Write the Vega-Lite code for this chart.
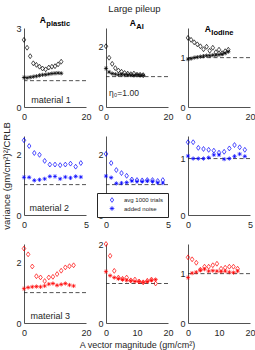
{
 "$schema": "https://vega.github.io/schema/vega-lite/v6.json",
 "padding": {"left": 1, "top": 3, "right": 0, "bottom": 0},
 "title": {"text": "Large pileup", "fontSize": 9.5, "fontWeight": "normal", "color": "#262626", "offset": 3, "anchor": "middle", "frame": "bounds", "dx": 6},
 "columns": 3,
 "spacing": {"row": 29, "column": 20},
 "bounds": "flush",
 "resolve": {"scale": {"shape": "independent"}, "legend": {"shape": "independent"}},
 "config": {
  "font": "Liberation Sans",
  "view": {"stroke": null},
  "axis": {"grid": false, "ticks": false, "labelFontSize": 9, "labelColor": "#262626", "domainColor": "#262626", "domainWidth": 0.8, "labelPadding": 3, "titleFontSize": 9.5, "titleFontWeight": "normal", "titleColor": "#262626", "labelFlush": false, "labelOverlap": false, "minExtent": 0},
  "axisX": {"labelPadding": 5.5},
  "axisY": {"minExtent": 0}
 },
 "datasets": {
  "p11": [
   {"x":0,"y":2.55,"s":"avg 1000 trials"},{"x":1,"y":2.25,"s":"avg 1000 trials"},{"x":2,"y":1.93,"s":"avg 1000 trials"},{"x":3,"y":1.66,"s":"avg 1000 trials"},{"x":4,"y":1.6,"s":"avg 1000 trials"},{"x":5,"y":1.53,"s":"avg 1000 trials"},{"x":6,"y":1.46,"s":"avg 1000 trials"},{"x":7,"y":1.43,"s":"avg 1000 trials"},{"x":8,"y":1.5,"s":"avg 1000 trials"},{"x":9,"y":1.53,"s":"avg 1000 trials"},{"x":10,"y":1.55,"s":"avg 1000 trials"},{"x":11,"y":1.62,"s":"avg 1000 trials"},{"x":12,"y":1.72,"s":"avg 1000 trials"},
   {"x":0,"y":1.12,"s":"added noise"},{"x":1,"y":1.11,"s":"added noise"},{"x":2,"y":1.13,"s":"added noise"},{"x":3,"y":1.15,"s":"added noise"},{"x":4,"y":1.17,"s":"added noise"},{"x":5,"y":1.2,"s":"added noise"},{"x":6,"y":1.22,"s":"added noise"},{"x":7,"y":1.23,"s":"added noise"},{"x":8,"y":1.25,"s":"added noise"},{"x":9,"y":1.27,"s":"added noise"},{"x":10,"y":1.28,"s":"added noise"},{"x":11,"y":1.29,"s":"added noise"},{"x":12,"y":1.28,"s":"added noise"}
  ],
  "p12": [
   {"x":0,"y":2.0,"s":"avg 1000 trials"},{"x":1,"y":1.62,"s":"avg 1000 trials"},{"x":2,"y":1.42,"s":"avg 1000 trials"},{"x":3,"y":1.28,"s":"avg 1000 trials"},{"x":4,"y":1.2,"s":"avg 1000 trials"},{"x":5,"y":1.16,"s":"avg 1000 trials"},{"x":6,"y":1.12,"s":"avg 1000 trials"},{"x":7,"y":1.1,"s":"avg 1000 trials"},{"x":8,"y":1.08,"s":"avg 1000 trials"},{"x":9,"y":1.1,"s":"avg 1000 trials"},{"x":10,"y":1.06,"s":"avg 1000 trials"},{"x":11,"y":1.06,"s":"avg 1000 trials"},{"x":12,"y":1.05,"s":"avg 1000 trials"},
   {"x":0,"y":1.27,"s":"added noise"},{"x":1,"y":1.15,"s":"added noise"},{"x":2,"y":1.1,"s":"added noise"},{"x":3,"y":1.08,"s":"added noise"},{"x":4,"y":1.06,"s":"added noise"},{"x":5,"y":1.07,"s":"added noise"},{"x":6,"y":1.05,"s":"added noise"},{"x":7,"y":1.06,"s":"added noise"},{"x":8,"y":1.05,"s":"added noise"},{"x":9,"y":1.04,"s":"added noise"},{"x":10,"y":1.06,"s":"added noise"},{"x":11,"y":1.05,"s":"added noise"},{"x":12,"y":1.04,"s":"added noise"}
  ],
  "p13": [
   {"x":0,"y":1.4,"s":"avg 1000 trials"},{"x":1,"y":1.36,"s":"avg 1000 trials"},{"x":2,"y":1.31,"s":"avg 1000 trials"},{"x":3,"y":1.27,"s":"avg 1000 trials"},{"x":4,"y":1.23,"s":"avg 1000 trials"},{"x":5,"y":1.17,"s":"avg 1000 trials"},{"x":6,"y":1.22,"s":"avg 1000 trials"},{"x":7,"y":1.14,"s":"avg 1000 trials"},{"x":8,"y":1.2,"s":"avg 1000 trials"},{"x":9,"y":1.11,"s":"avg 1000 trials"},{"x":10,"y":1.16,"s":"avg 1000 trials"},{"x":11,"y":1.09,"s":"avg 1000 trials"},{"x":12,"y":1.13,"s":"avg 1000 trials"},{"x":13,"y":1.16,"s":"avg 1000 trials"},
   {"x":0,"y":0.97,"s":"added noise"},{"x":1,"y":0.98,"s":"added noise"},{"x":2,"y":1.0,"s":"added noise"},{"x":3,"y":1.01,"s":"added noise"},{"x":4,"y":1.02,"s":"added noise"},{"x":5,"y":1.03,"s":"added noise"},{"x":6,"y":1.04,"s":"added noise"},{"x":7,"y":1.04,"s":"added noise"},{"x":8,"y":1.05,"s":"added noise"},{"x":9,"y":1.05,"s":"added noise"},{"x":10,"y":1.06,"s":"added noise"},{"x":11,"y":1.07,"s":"added noise"},{"x":12,"y":1.09,"s":"added noise"},{"x":13,"y":1.12,"s":"added noise"}
  ],
  "p21": [
   {"x":0,"y":2.46,"s":"avg 1000 trials"},{"x":0.417,"y":2.27,"s":"avg 1000 trials"},{"x":0.833,"y":2.04,"s":"avg 1000 trials"},{"x":1.25,"y":1.98,"s":"avg 1000 trials"},{"x":1.667,"y":1.78,"s":"avg 1000 trials"},{"x":2.083,"y":1.66,"s":"avg 1000 trials"},{"x":2.5,"y":1.66,"s":"avg 1000 trials"},{"x":2.917,"y":1.64,"s":"avg 1000 trials"},{"x":3.333,"y":1.66,"s":"avg 1000 trials"},{"x":3.75,"y":1.69,"s":"avg 1000 trials"},{"x":4.167,"y":1.59,"s":"avg 1000 trials"},{"x":4.583,"y":1.71,"s":"avg 1000 trials"},
   {"x":0,"y":1.24,"s":"added noise"},{"x":0.417,"y":1.24,"s":"added noise"},{"x":0.833,"y":1.14,"s":"added noise"},{"x":1.25,"y":1.16,"s":"added noise"},{"x":1.667,"y":1.19,"s":"added noise"},{"x":2.083,"y":1.27,"s":"added noise"},{"x":2.5,"y":1.27,"s":"added noise"},{"x":2.917,"y":1.19,"s":"added noise"},{"x":3.333,"y":1.25,"s":"added noise"},{"x":3.75,"y":1.22,"s":"added noise"},{"x":4.167,"y":1.27,"s":"added noise"},{"x":4.583,"y":1.25,"s":"added noise"}
  ],
  "p22": [
   {"x":0,"y":2.01,"s":"avg 1000 trials"},{"x":0.417,"y":1.71,"s":"avg 1000 trials"},{"x":0.833,"y":1.48,"s":"avg 1000 trials"},{"x":1.25,"y":1.38,"s":"avg 1000 trials"},{"x":1.667,"y":1.29,"s":"avg 1000 trials"},{"x":2.083,"y":1.17,"s":"avg 1000 trials"},{"x":2.5,"y":1.15,"s":"avg 1000 trials"},{"x":2.917,"y":1.14,"s":"avg 1000 trials"},{"x":3.333,"y":1.15,"s":"avg 1000 trials"},{"x":3.75,"y":1.15,"s":"avg 1000 trials"},{"x":4.167,"y":1.12,"s":"avg 1000 trials"},{"x":4.583,"y":1.15,"s":"avg 1000 trials"},
   {"x":0,"y":1.28,"s":"added noise"},{"x":0.417,"y":1.23,"s":"added noise"},{"x":0.833,"y":1.04,"s":"added noise"},{"x":1.25,"y":1.05,"s":"added noise"},{"x":1.667,"y":1.07,"s":"added noise"},{"x":2.083,"y":1.12,"s":"added noise"},{"x":2.5,"y":1.1,"s":"added noise"},{"x":2.917,"y":1.1,"s":"added noise"},{"x":3.333,"y":1.12,"s":"added noise"},{"x":3.75,"y":1.1,"s":"added noise"},{"x":4.167,"y":1.06,"s":"added noise"},{"x":4.583,"y":1.05,"s":"added noise"}
  ],
  "p23": [
   {"x":0,"y":1.29,"s":"avg 1000 trials"},{"x":0.417,"y":1.29,"s":"avg 1000 trials"},{"x":0.833,"y":1.19,"s":"avg 1000 trials"},{"x":1.25,"y":1.17,"s":"avg 1000 trials"},{"x":1.667,"y":1.155,"s":"avg 1000 trials"},{"x":2.083,"y":1.14,"s":"avg 1000 trials"},{"x":2.5,"y":1.105,"s":"avg 1000 trials"},{"x":2.917,"y":1.12,"s":"avg 1000 trials"},{"x":3.333,"y":1.18,"s":"avg 1000 trials"},{"x":3.75,"y":1.24,"s":"avg 1000 trials"},{"x":4.167,"y":1.2,"s":"avg 1000 trials"},{"x":4.583,"y":1.155,"s":"avg 1000 trials"},
   {"x":0,"y":1.045,"s":"added noise"},{"x":0.417,"y":1.0,"s":"added noise"},{"x":0.833,"y":1.0,"s":"added noise"},{"x":1.25,"y":1.0,"s":"added noise"},{"x":1.667,"y":1.017,"s":"added noise"},{"x":2.083,"y":1.066,"s":"added noise"},{"x":2.5,"y":1.066,"s":"added noise"},{"x":2.917,"y":0.99,"s":"added noise"},{"x":3.333,"y":1.0,"s":"added noise"},{"x":3.75,"y":1.04,"s":"added noise"},{"x":4.167,"y":1.08,"s":"added noise"},{"x":4.583,"y":1.04,"s":"added noise"}
  ],
  "p31": [
   {"x":0,"y":2.45,"s":"avg 1000 trials"},{"x":1.333,"y":2.26,"s":"avg 1000 trials"},{"x":2.667,"y":1.86,"s":"avg 1000 trials"},{"x":4,"y":1.54,"s":"avg 1000 trials"},{"x":5.333,"y":1.5,"s":"avg 1000 trials"},{"x":6.667,"y":1.38,"s":"avg 1000 trials"},{"x":8,"y":1.5,"s":"avg 1000 trials"},{"x":9.333,"y":1.52,"s":"avg 1000 trials"},{"x":10.667,"y":1.61,"s":"avg 1000 trials"},{"x":12,"y":1.72,"s":"avg 1000 trials"},{"x":13.333,"y":1.83,"s":"avg 1000 trials"},{"x":14.667,"y":1.87,"s":"avg 1000 trials"},{"x":16,"y":1.9,"s":"avg 1000 trials"},
   {"x":0,"y":1.13,"s":"added noise"},{"x":1.333,"y":1.17,"s":"added noise"},{"x":2.667,"y":1.19,"s":"added noise"},{"x":4,"y":1.2,"s":"added noise"},{"x":5.333,"y":1.19,"s":"added noise"},{"x":6.667,"y":1.22,"s":"added noise"},{"x":8,"y":1.28,"s":"added noise"},{"x":9.333,"y":1.3,"s":"added noise"},{"x":10.667,"y":1.24,"s":"added noise"},{"x":12,"y":1.27,"s":"added noise"},{"x":13.333,"y":1.3,"s":"added noise"},{"x":14.667,"y":1.25,"s":"added noise"},{"x":16,"y":1.22,"s":"added noise"}
  ],
  "p32": [
   {"x":0,"y":2.0,"s":"avg 1000 trials"},{"x":1.333,"y":1.7,"s":"avg 1000 trials"},{"x":2.667,"y":1.32,"s":"avg 1000 trials"},{"x":4,"y":1.15,"s":"avg 1000 trials"},{"x":5.333,"y":1.12,"s":"avg 1000 trials"},{"x":6.667,"y":1.15,"s":"avg 1000 trials"},{"x":8,"y":1.08,"s":"avg 1000 trials"},{"x":9.333,"y":1.1,"s":"avg 1000 trials"},{"x":10.667,"y":1.05,"s":"avg 1000 trials"},{"x":12,"y":1.03,"s":"avg 1000 trials"},{"x":13.333,"y":1.07,"s":"avg 1000 trials"},{"x":14.667,"y":1.1,"s":"avg 1000 trials"},{"x":16,"y":1.0,"s":"avg 1000 trials"},
   {"x":0,"y":1.3,"s":"added noise"},{"x":1.333,"y":1.2,"s":"added noise"},{"x":2.667,"y":1.15,"s":"added noise"},{"x":4,"y":1.12,"s":"added noise"},{"x":5.333,"y":1.1,"s":"added noise"},{"x":6.667,"y":1.08,"s":"added noise"},{"x":8,"y":1.07,"s":"added noise"},{"x":9.333,"y":1.05,"s":"added noise"},{"x":10.667,"y":1.05,"s":"added noise"},{"x":12,"y":1.03,"s":"added noise"},{"x":13.333,"y":1.05,"s":"added noise"},{"x":14.667,"y":1.08,"s":"added noise"},{"x":16,"y":1.1,"s":"added noise"}
  ],
  "p33": [
   {"x":0,"y":1.33,"s":"avg 1000 trials"},{"x":1.333,"y":1.29,"s":"avg 1000 trials"},{"x":2.667,"y":1.22,"s":"avg 1000 trials"},{"x":4,"y":1.08,"s":"avg 1000 trials"},{"x":5.333,"y":1.14,"s":"avg 1000 trials"},{"x":6.667,"y":1.14,"s":"avg 1000 trials"},{"x":8,"y":1.17,"s":"avg 1000 trials"},{"x":9.333,"y":1.2,"s":"avg 1000 trials"},{"x":10.667,"y":1.1,"s":"avg 1000 trials"},{"x":12,"y":1.12,"s":"avg 1000 trials"},{"x":13.333,"y":1.14,"s":"avg 1000 trials"},{"x":14.667,"y":1.14,"s":"avg 1000 trials"},{"x":16,"y":1.1,"s":"avg 1000 trials"},
   {"x":0,"y":0.92,"s":"added noise"},{"x":1.333,"y":1.01,"s":"added noise"},{"x":2.667,"y":1.03,"s":"added noise"},{"x":4,"y":1.07,"s":"added noise"},{"x":5.333,"y":1.09,"s":"added noise"},{"x":6.667,"y":1.05,"s":"added noise"},{"x":8,"y":1.06,"s":"added noise"},{"x":9.333,"y":1.05,"s":"added noise"},{"x":10.667,"y":1.04,"s":"added noise"},{"x":12,"y":1.05,"s":"added noise"},{"x":13.333,"y":1.03,"s":"added noise"},{"x":14.667,"y":1.02,"s":"added noise"},{"x":16,"y":1.05,"s":"added noise"}
  ]
 },
 "concat": [
  {"width": 62, "height": 79, "data": {"name": "p11"}, "layer": [
   {"data": {"values": [{}]}, "mark": {"type": "rule", "strokeDash": [4, 2.5], "color": "#262626", "strokeWidth": 0.8}, "encoding": {"y": {"datum": 1}}},
   {"mark": {"type": "point", "filled": false, "color": "#000000", "strokeWidth": 0.7, "opacity": 1},
    "encoding": {"x": {"field": "x", "type": "quantitative", "scale": {"domain": [0, 20]}, "axis": {"values": [0, 10, 20], "title": null}},
     "y": {"field": "y", "type": "quantitative", "scale": {"domain": [0, 3]}, "axis": {"values": [0, 1, 2, 3], "title": null, "format": "~g"}},
     "shape": {"field": "s", "type": "nominal", "scale": {"domain": ["avg 1000 trials", "added noise"], "range": ["M0,-1L0.72,0L0,1L-0.72,0Z", "M-1,0L1,0M0,-1L0,1M-0.7,-0.7L0.7,0.7M-0.7,0.7L0.7,-0.7"]}, "legend": null},
     "size": {"field": "s", "type": "nominal", "scale": {"domain": ["avg 1000 trials", "added noise"], "range": [24, 18]}, "legend": null}}},
   {"data": {"values": [{}]}, "mark": {"type": "text", "text": "material 1", "align": "left", "baseline": "middle", "fontSize": 9, "color": "#262626"}, "encoding": {"x": {"datum": 2.3}, "y": {"datum": 0.25}}},
   {"data": {"values": [{}]}, "mark": {"type": "text", "text": "A", "align": "right", "baseline": "alphabetic", "fontSize": 8.5, "fontWeight": "bold", "dx": -9, "dy": -4.7, "color": "#000000"}, "encoding": {"x": {"datum": 10}, "y": {"datum": 3}}},
   {"data": {"values": [{}]}, "mark": {"type": "text", "text": "plastic", "align": "left", "baseline": "alphabetic", "fontSize": 7.5, "fontWeight": "bold", "dx": -8.7, "dy": -1.7, "color": "#000000"}, "encoding": {"x": {"datum": 10}, "y": {"datum": 3}}}
  ]},
  {"width": 62, "height": 79, "data": {"name": "p12"}, "layer": [
   {"data": {"values": [{}]}, "mark": {"type": "rule", "strokeDash": [4, 2.5], "color": "#262626", "strokeWidth": 0.8}, "encoding": {"y": {"datum": 1}}},
   {"mark": {"type": "point", "filled": false, "color": "#000000", "strokeWidth": 0.7, "opacity": 1},
    "encoding": {"x": {"field": "x", "type": "quantitative", "scale": {"domain": [0, 20]}, "axis": {"values": [0, 10, 20], "title": null}},
     "y": {"field": "y", "type": "quantitative", "scale": {"domain": [0, 2.5]}, "axis": {"values": [0, 1, 2], "title": null, "format": "~g"}},
     "shape": {"field": "s", "type": "nominal", "scale": {"domain": ["avg 1000 trials", "added noise"], "range": ["M0,-1L0.72,0L0,1L-0.72,0Z", "M-1,0L1,0M0,-1L0,1M-0.7,-0.7L0.7,0.7M-0.7,0.7L0.7,-0.7"]}, "legend": null},
     "size": {"field": "s", "type": "nominal", "scale": {"domain": ["avg 1000 trials", "added noise"], "range": [24, 18]}, "legend": null}}},
   {"data": {"values": [{}]}, "mark": {"type": "text", "text": "η₀=1.00", "align": "left", "baseline": "middle", "fontSize": 8.5, "color": "#262626"}, "encoding": {"x": {"datum": 1}, "y": {"datum": 0.47}}},
   {"data": {"values": [{}]}, "mark": {"type": "text", "text": "A", "align": "right", "baseline": "alphabetic", "fontSize": 8.5, "fontWeight": "bold", "dx": -1, "dy": -4.7, "color": "#000000"}, "encoding": {"x": {"datum": 10}, "y": {"datum": 2.5}}},
   {"data": {"values": [{}]}, "mark": {"type": "text", "text": "Al", "align": "left", "baseline": "alphabetic", "fontSize": 7.5, "fontWeight": "bold", "dx": -0.7, "dy": -1.7, "color": "#000000"}, "encoding": {"x": {"datum": 10}, "y": {"datum": 2.5}}}
  ]},
  {"width": 62, "height": 79, "data": {"name": "p13"}, "layer": [
   {"data": {"values": [{}]}, "mark": {"type": "rule", "strokeDash": [4, 2.5], "color": "#262626", "strokeWidth": 0.8}, "encoding": {"y": {"datum": 1}}},
   {"mark": {"type": "point", "filled": false, "color": "#000000", "strokeWidth": 0.7, "opacity": 1},
    "encoding": {"x": {"field": "x", "type": "quantitative", "scale": {"domain": [0, 20]}, "axis": {"values": [0, 10, 20], "title": null}},
     "y": {"field": "y", "type": "quantitative", "scale": {"domain": [0, 1.43]}, "axis": {"values": [0, 0.5, 1], "title": null, "format": "~g"}},
     "shape": {"field": "s", "type": "nominal", "scale": {"domain": ["avg 1000 trials", "added noise"], "range": ["M0,-1L0.72,0L0,1L-0.72,0Z", "M-1,0L1,0M0,-1L0,1M-0.7,-0.7L0.7,0.7M-0.7,0.7L0.7,-0.7"]}, "legend": null},
     "size": {"field": "s", "type": "nominal", "scale": {"domain": ["avg 1000 trials", "added noise"], "range": [24, 18]}, "legend": null}}},
   {"data": {"values": [{}]}, "mark": {"type": "text", "text": "A", "align": "right", "baseline": "alphabetic", "fontSize": 8.5, "fontWeight": "bold", "dx": -8, "dy": -4.7, "color": "#000000"}, "encoding": {"x": {"datum": 10}, "y": {"datum": 1.43}}},
   {"data": {"values": [{}]}, "mark": {"type": "text", "text": "Iodine", "align": "left", "baseline": "alphabetic", "fontSize": 7.5, "fontWeight": "bold", "dx": -7.7, "dy": -1.7, "color": "#000000"}, "encoding": {"x": {"datum": 10}, "y": {"datum": 1.43}}}
  ]},
  {"width": 62, "height": 79, "data": {"name": "p21"}, "layer": [
   {"data": {"values": [{}]}, "mark": {"type": "rule", "strokeDash": [4, 2.5], "color": "#262626", "strokeWidth": 0.8}, "encoding": {"y": {"datum": 1}}},
   {"mark": {"type": "point", "filled": false, "color": "#0000ff", "strokeWidth": 0.7, "opacity": 1},
    "encoding": {"x": {"field": "x", "type": "quantitative", "scale": {"domain": [0, 5]}, "axis": {"values": [0, 5], "title": null}},
     "y": {"field": "y", "type": "quantitative", "scale": {"domain": [0, 2.5]}, "axis": {"values": [0, 1, 2], "title": "variance (gm/cm²)²/CRLB", "titlePadding": 4, "format": "~g"}},
     "shape": {"field": "s", "type": "nominal", "scale": {"domain": ["avg 1000 trials", "added noise"], "range": ["M0,-1L0.72,0L0,1L-0.72,0Z", "M-1,0L1,0M0,-1L0,1M-0.7,-0.7L0.7,0.7M-0.7,0.7L0.7,-0.7"]}, "legend": null},
     "size": {"field": "s", "type": "nominal", "scale": {"domain": ["avg 1000 trials", "added noise"], "range": [24, 18]}, "legend": null}}},
   {"data": {"values": [{}]}, "mark": {"type": "text", "text": "material 2", "align": "left", "baseline": "middle", "fontSize": 9, "color": "#262626"}, "encoding": {"x": {"datum": 0.45}, "y": {"datum": 0.22}}}
  ]},
  {"width": 62, "height": 79, "data": {"name": "p22"}, "layer": [
   {"data": {"values": [{}]}, "mark": {"type": "rule", "strokeDash": [4, 2.5], "color": "#262626", "strokeWidth": 0.8}, "encoding": {"y": {"datum": 1}}},
   {"mark": {"type": "point", "filled": false, "color": "#0000ff", "strokeWidth": 0.7, "opacity": 1},
    "encoding": {"x": {"field": "x", "type": "quantitative", "scale": {"domain": [0, 5]}, "axis": {"values": [0, 5], "title": null}},
     "y": {"field": "y", "type": "quantitative", "scale": {"domain": [0, 2.5]}, "axis": {"values": [0, 1, 2], "title": null, "format": "~g"}},
     "shape": {"field": "s", "type": "nominal", "scale": {"domain": ["avg 1000 trials", "added noise"], "range": ["M0,-1L0.72,0L0,1L-0.72,0Z", "M-1,0L1,0M0,-1L0,1M-0.7,-0.7L0.7,0.7M-0.7,0.7L0.7,-0.7"]},
      "legend": {"orient": "none", "legendX": -9, "legendY": 57, "title": null, "strokeColor": "#262626", "fillColor": "white", "padding": 4, "labelFontSize": 6, "labelColor": "#262626", "symbolStrokeColor": "#0000ff", "symbolFillColor": "transparent", "symbolStrokeWidth": 0.7, "symbolSize": 22, "symbolOffset": 8, "labelOffset": 9, "rowPadding": 0.5}},
     "size": {"field": "s", "type": "nominal", "scale": {"domain": ["avg 1000 trials", "added noise"], "range": [24, 18]}, "legend": null}}}
  ]},
  {"width": 62, "height": 79, "data": {"name": "p23"}, "layer": [
   {"data": {"values": [{}]}, "mark": {"type": "rule", "strokeDash": [4, 2.5], "color": "#262626", "strokeWidth": 0.8}, "encoding": {"y": {"datum": 1}}},
   {"mark": {"type": "point", "filled": false, "color": "#0000ff", "strokeWidth": 0.7, "opacity": 1},
    "encoding": {"x": {"field": "x", "type": "quantitative", "scale": {"domain": [0, 5]}, "axis": {"values": [0, 5], "title": null}},
     "y": {"field": "y", "type": "quantitative", "scale": {"domain": [0, 1.32]}, "axis": {"values": [0, 0.5, 1], "title": null, "format": "~g"}},
     "shape": {"field": "s", "type": "nominal", "scale": {"domain": ["avg 1000 trials", "added noise"], "range": ["M0,-1L0.72,0L0,1L-0.72,0Z", "M-1,0L1,0M0,-1L0,1M-0.7,-0.7L0.7,0.7M-0.7,0.7L0.7,-0.7"]}, "legend": null},
     "size": {"field": "s", "type": "nominal", "scale": {"domain": ["avg 1000 trials", "added noise"], "range": [24, 18]}, "legend": null}}}
  ]},
  {"width": 62, "height": 79, "data": {"name": "p31"}, "layer": [
   {"data": {"values": [{}]}, "mark": {"type": "rule", "strokeDash": [4, 2.5], "color": "#262626", "strokeWidth": 0.8}, "encoding": {"y": {"datum": 1}}},
   {"mark": {"type": "point", "filled": false, "color": "#ff0000", "strokeWidth": 0.7, "opacity": 1},
    "encoding": {"x": {"field": "x", "type": "quantitative", "scale": {"domain": [0, 20]}, "axis": {"values": [0, 10, 20], "title": null}},
     "y": {"field": "y", "type": "quantitative", "scale": {"domain": [0, 2.5]}, "axis": {"values": [0, 1, 2], "title": null, "format": "~g"}},
     "shape": {"field": "s", "type": "nominal", "scale": {"domain": ["avg 1000 trials", "added noise"], "range": ["M0,-1L0.72,0L0,1L-0.72,0Z", "M-1,0L1,0M0,-1L0,1M-0.7,-0.7L0.7,0.7M-0.7,0.7L0.7,-0.7"]}, "legend": null},
     "size": {"field": "s", "type": "nominal", "scale": {"domain": ["avg 1000 trials", "added noise"], "range": [24, 18]}, "legend": null}}},
   {"data": {"values": [{}]}, "mark": {"type": "text", "text": "material 3", "align": "left", "baseline": "middle", "fontSize": 9, "color": "#262626"}, "encoding": {"x": {"datum": 2.1}, "y": {"datum": 0.22}}}
  ]},
  {"width": 62, "height": 79, "data": {"name": "p32"}, "layer": [
   {"data": {"values": [{}]}, "mark": {"type": "rule", "strokeDash": [4, 2.5], "color": "#262626", "strokeWidth": 0.8}, "encoding": {"y": {"datum": 1}}},
   {"mark": {"type": "point", "filled": false, "color": "#ff0000", "strokeWidth": 0.7, "opacity": 1},
    "encoding": {"x": {"field": "x", "type": "quantitative", "scale": {"domain": [0, 20]}, "axis": {"values": [0, 10, 20], "title": "A vector magnitude (gm/cm²)", "titlePadding": 3, "titleFontSize": 9}},
     "y": {"field": "y", "type": "quantitative", "scale": {"domain": [0, 2]}, "axis": {"values": [0, 1, 2], "title": null, "format": "~g"}},
     "shape": {"field": "s", "type": "nominal", "scale": {"domain": ["avg 1000 trials", "added noise"], "range": ["M0,-1L0.72,0L0,1L-0.72,0Z", "M-1,0L1,0M0,-1L0,1M-0.7,-0.7L0.7,0.7M-0.7,0.7L0.7,-0.7"]}, "legend": null},
     "size": {"field": "s", "type": "nominal", "scale": {"domain": ["avg 1000 trials", "added noise"], "range": [24, 18]}, "legend": null}}}
  ]},
  {"width": 62, "height": 79, "data": {"name": "p33"}, "layer": [
   {"data": {"values": [{}]}, "mark": {"type": "rule", "strokeDash": [4, 2.5], "color": "#262626", "strokeWidth": 0.8}, "encoding": {"y": {"datum": 1}}},
   {"mark": {"type": "point", "filled": false, "color": "#ff0000", "strokeWidth": 0.7, "opacity": 1},
    "encoding": {"x": {"field": "x", "type": "quantitative", "scale": {"domain": [0, 20]}, "axis": {"values": [0, 10, 20], "title": null}},
     "y": {"field": "y", "type": "quantitative", "scale": {"domain": [0, 1.43]}, "axis": {"values": [0, 0.5, 1], "title": null, "format": "~g"}},
     "shape": {"field": "s", "type": "nominal", "scale": {"domain": ["avg 1000 trials", "added noise"], "range": ["M0,-1L0.72,0L0,1L-0.72,0Z", "M-1,0L1,0M0,-1L0,1M-0.7,-0.7L0.7,0.7M-0.7,0.7L0.7,-0.7"]}, "legend": null},
     "size": {"field": "s", "type": "nominal", "scale": {"domain": ["avg 1000 trials", "added noise"], "range": [24, 18]}, "legend": null}}}
  ]}
 ]
}
